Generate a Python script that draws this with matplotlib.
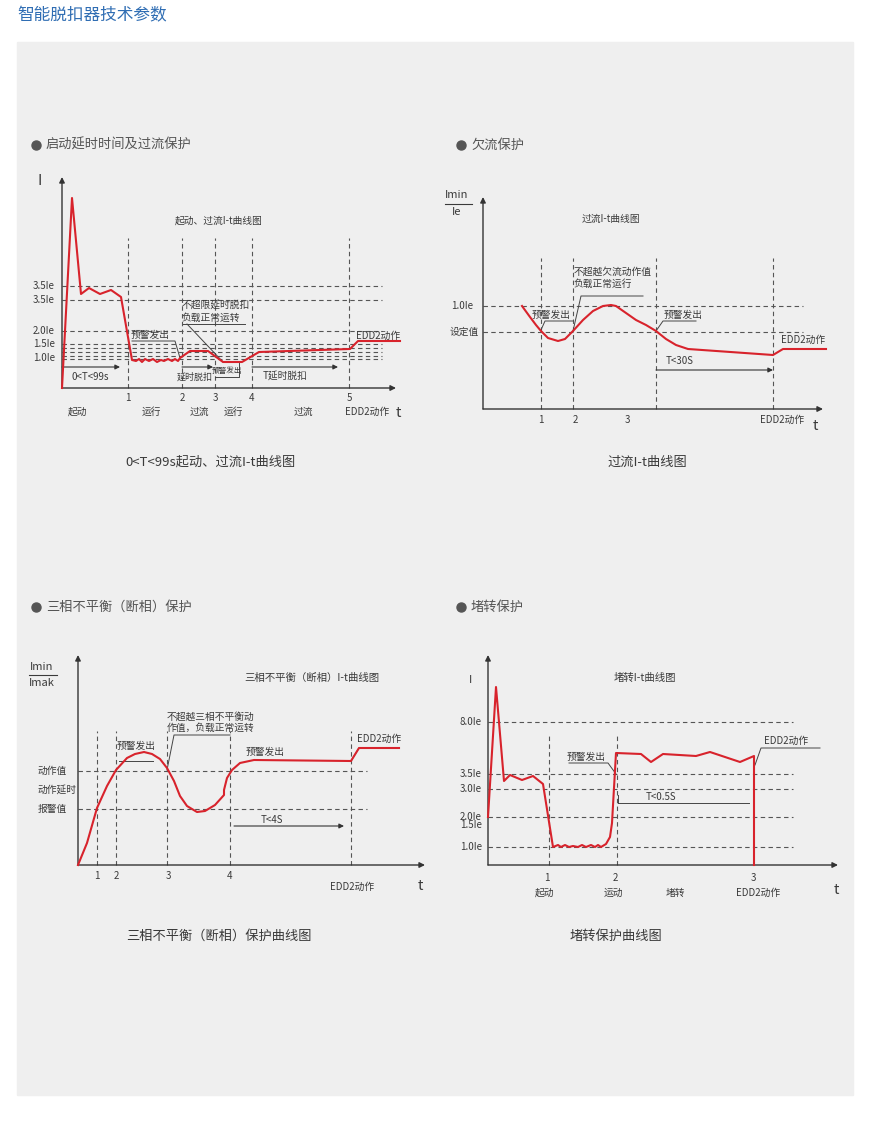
import numpy as np
import matplotlib
matplotlib.use("Agg")
import matplotlib.pyplot as plt
from matplotlib.patches import Rectangle

plt.rcParams['font.family'] = ['Noto Sans CJK SC', 'DejaVu Sans']

RED = '#d8232c'
AXC = '#333333'
DASH = '#555555'
TXT = '#3a3a3a'

# ---------------- data (diagram units, origin = axis corner) ----------------
# panel 1 : start delay + overcurrent
p1_t = [0, 10, 19, 27, 38, 49, 59, 70, 74, 77, 80, 83, 87, 91, 95, 99, 102, 106,
        110, 113, 116, 118, 128, 146, 161, 180, 197, 288, 296, 338]
p1_i = [0, 190, 94, 100, 94, 98, 91, 28, 27, 29, 26, 29, 27, 29, 26, 28, 27, 29,
        27, 29, 27, 30, 37, 37, 26, 26, 36, 39, 47, 47]
p1_levels = [102, 88, 57, 44, 40, 36, 32, 29]
p1_lvl_pos = [102, 88, 57, 44, 30]
p1_lvl_txt = ['3.5Ie', '3.5Ie', '2.0Ie', '1.5Ie', '1.0Ie']
p1_marks = [66, 120, 153, 190, 287]
p1_mark_txt = ['1', '2', '3', '4', '5']
p1_phase_x = [16, 89, 137, 171, 241, 305]
p1_phase_txt = ['起动', '运行', '过流', '运行', '过流', 'EDD2动作']

# panel 2 : undercurrent
p2_t = [39, 47, 53, 58, 65, 75, 82, 90, 100, 110, 120, 128, 133, 143, 153, 163,
        173, 183, 193, 205, 290, 300, 343]
p2_i = [103, 92, 84, 78, 71, 68, 70, 78, 89, 98, 103, 104, 103, 96, 89, 84,
        78, 70, 64, 60, 54, 60, 60]
p2_levels = [103, 77]
p2_lvl_txt = ['1.0Ie', '设定值']
p2_marks = [58, 90, 173, 290]
p2_mark_x = [58, 92, 144, 299]
p2_mark_txt = ['1', '2', '3', 'EDD2动作']

# panel 3 : phase unbalance
p3_t = [0, 9, 19, 29, 38, 49, 57, 66, 74, 82, 89, 96, 102, 109, 119, 127, 137,
        146, 146, 149, 154, 162, 176, 273, 281, 321]
p3_i = [0, 22, 57, 79, 95, 107, 111, 113, 111, 106, 97, 84, 69, 59, 53, 54, 60,
        70, 75, 87, 95, 102, 105, 104, 117, 117]
p3_levels = [94, 56]
p3_lvl_pos = [94, 75, 56]
p3_lvl_txt = ['动作值', '动作延时', '报警值']
p3_marks = [19, 38, 89, 152, 273]
p3_mark_x = [19, 38, 90, 152]
p3_mark_txt = ['1', '2', '3', '4']

# panel 4 : locked rotor
p4_t = [0, 8, 16, 22, 34, 45, 55, 65, 70, 73, 77, 81, 85, 90, 94, 98, 103, 107,
        110, 113, 118, 122, 124, 128, 153, 163, 175, 208, 222, 252, 266, 266]
p4_i = [48, 178, 84, 90, 85, 89, 81, 18, 20, 18, 20, 18, 19, 18, 20, 18, 20, 18,
        20, 18, 21, 28, 42, 112, 111, 103, 111, 109, 113, 103, 109, 0]
p4_levels = [143, 91, 76, 48, 18]
p4_lvl_pos = [143, 91, 76, 48, 40, 18]
p4_lvl_txt = ['8.0Ie', '3.5Ie', '3.0Ie', '2.0Ie', '1.5Ie', '1.0Ie']
p4_marks = [61, 129]
p4_mark_x = [59, 127, 265]
p4_mark_txt = ['1', '2', '3']
p4_phase_x = [57, 125, 187, 270]
p4_phase_txt = ['起动', '运动', '堵转', 'EDD2动作']

W, H = 870, 1121
fig = plt.figure(figsize=(W / 100, H / 100), dpi=100)
fig.patch.set_facecolor('white')

bg = fig.add_axes([0, 0, 1, 1])
bg.set_xlim(0, W)
bg.set_ylim(H, 0)
bg.axis('off')
bg.add_patch(Rectangle((17, 42), 836, 1053, color='#efefef', zorder=0))
bg.text(17, 16, '智能脱扣器技术参数', fontsize=12, color='#2f6db3', va='center')

headings = [(33, 145, '启动延时时间及过流保护'), (458, 145, '欠流保护'),
            (33, 607, '三相不平衡（断相）保护'), (458, 607, '堵转保护')]
for hx, hy, ht in headings:
    bg.plot([hx + 3], [hy], 'o', color='#555555', ms=6.5)
    bg.text(hx + 13, hy, ht, fontsize=9.5, color='#555555', va='center')

captions = [(211, 462, '0<T<99s起动、过流I-t曲线图'), (647, 462, '过流I-t曲线图'),
            (219, 936, '三相不平衡（断相）保护曲线图'), (616, 936, '堵转保护曲线图')]
for cx, cy, ct in captions:
    bg.text(cx, cy, ct, fontsize=9.5, color=TXT, ha='center', va='center')


def make_panel(ox, oy, left=-60, right=370, bottom=-40, top=230):
    ax = fig.add_axes([(ox + left) / W, (H - oy + bottom) / H,
                       (right - left) / W, (top - bottom) / H])
    ax.set_xlim(left, right)
    ax.set_ylim(bottom, top)
    ax.axis('off')
    ax.patch.set_alpha(0)
    return ax


def axes_arrows(ax, xend, ytop):
    ax.annotate('', xy=(xend, 0), xytext=(0, 0),
                arrowprops=dict(arrowstyle='-|>', color=AXC, lw=1, mutation_scale=8, shrinkA=0, shrinkB=0))
    ax.annotate('', xy=(0, ytop), xytext=(0, 0),
                arrowprops=dict(arrowstyle='-|>', color=AXC, lw=1, mutation_scale=8, shrinkA=0, shrinkB=0))


def grid_lines(ax, levels, xend, marks, ytop):
    ax.hlines(levels, 0, xend, colors=DASH, lw=0.8, linestyles=(0, (4, 3)))
    ax.vlines(marks, 0, ytop, colors=DASH, lw=0.8, linestyles=(0, (4, 3)))


def note(ax, xs, ys):
    ax.plot(xs, ys, color='#444444', lw=0.7)


def arrow(ax, x0, x1, y):
    ax.annotate('', xy=(x1, y), xytext=(x0, y),
                arrowprops=dict(arrowstyle='-|>', color=AXC, lw=0.8, mutation_scale=7, shrinkA=0, shrinkB=0))


fs = 7

# ---------------- panel 1 ----------------
ax1 = make_panel(62, 388)
grid_lines(ax1, p1_levels, 320, p1_marks, 150)
axes_arrows(ax1, 334, 211)
ax1.plot(p1_t, p1_i, color=RED, lw=1.5, zorder=5)
for y, s in zip(p1_lvl_pos, p1_lvl_txt):
    ax1.text(-7, y, s, fontsize=fs, ha='right', va='center', color=TXT)
for x, s in zip(p1_marks, p1_mark_txt):
    ax1.text(x, -10, s, fontsize=fs, ha='center', va='center', color=TXT)
for x, s in zip(p1_phase_x, p1_phase_txt):
    ax1.text(x, -24, s, fontsize=fs, ha='center', va='center', color=TXT)
ax1.text(336, -25, 't', fontsize=10.5, ha='center', va='center', color=TXT)
ax1.text(-22, 207, 'I', fontsize=10.5, ha='center', va='center', color=TXT)
ax1.text(157, 167, '起动、过流I-t曲线图', fontsize=fs, ha='center', va='center', color=TXT)
arrow(ax1, 0, 58, 21)
ax1.text(28, 11, '0<T<99s', fontsize=fs, ha='center', va='center', color=TXT)
arrow(ax1, 120, 151, 21)
ax1.text(133, 11, '延时脱扣', fontsize=fs - 0.5, ha='center', va='center', color=TXT)
ax1.text(165, 17, '预警发出', fontsize=fs - 1.5, ha='center', va='center', color=TXT)
note(ax1, [153, 177, 177], [11, 11, 25])
arrow(ax1, 190, 276, 21)
ax1.text(223, 12, 'T延时脱扣', fontsize=fs, ha='center', va='center', color=TXT)
ax1.text(88, 53, '预警发出', fontsize=fs, ha='center', va='center', color=TXT)
note(ax1, [70, 113, 118], [47, 47, 30])
ax1.text(120, 83, '不超限延时脱扣', fontsize=fs, ha='left', va='center', color=TXT)
ax1.text(120, 70, '负载正常运转', fontsize=fs, ha='left', va='center', color=TXT)
note(ax1, [183, 121], [64, 64])
note(ax1, [125, 161], [64, 26])
ax1.text(316, 52, 'EDD2动作', fontsize=fs, ha='center', va='center', color=TXT)

# ---------------- panel 2 ----------------
ax2 = make_panel(483, 409)
grid_lines(ax2, p2_levels, 320, p2_marks, 151)
axes_arrows(ax2, 340, 212)
ax2.plot(p2_t, p2_i, color=RED, lw=1.5, zorder=5)
ax2.text(-10, 103, p2_lvl_txt[0], fontsize=fs, ha='right', va='center', color=TXT)
ax2.text(-4, 77, p2_lvl_txt[1], fontsize=fs, ha='right', va='center', color=TXT)
for x, s in zip(p2_mark_x, p2_mark_txt):
    ax2.text(x, -11, s, fontsize=fs, ha='center', va='center', color=TXT)
ax2.text(332, -17, 't', fontsize=10.5, ha='center', va='center', color=TXT)
ax2.text(-26, 214, 'Imin', fontsize=8, ha='center', va='center', color=TXT)
ax2.text(-26, 197, 'Ie', fontsize=8, ha='center', va='center', color=TXT)
ax2.plot([-38, -11], [205, 205], color=TXT, lw=0.8)
ax2.text(128, 190, '过流I-t曲线图', fontsize=fs, ha='center', va='center', color=TXT)
ax2.text(68, 94, '预警发出', fontsize=fs, ha='center', va='center', color=TXT)
note(ax2, [90, 62, 58], [88, 88, 79])
ax2.text(91, 137, '不超越欠流动作值', fontsize=fs, ha='left', va='center', color=TXT)
ax2.text(91, 125, '负载正常运行', fontsize=fs, ha='left', va='center', color=TXT)
note(ax2, [160, 98, 90], [113, 113, 78])
ax2.text(200, 94, '预警发出', fontsize=fs, ha='center', va='center', color=TXT)
note(ax2, [213, 180, 173], [88, 88, 78])
ax2.text(320, 69, 'EDD2动作', fontsize=fs, ha='center', va='center', color=TXT)
arrow(ax2, 173, 290, 39)
ax2.text(197, 48, 'T<30S', fontsize=fs, ha='center', va='center', color=TXT)

# ---------------- panel 3 ----------------
ax3 = make_panel(78, 865)
grid_lines(ax3, p3_levels, 289, p3_marks, 134)
axes_arrows(ax3, 347, 210)
ax3.plot(p3_t, p3_i, color=RED, lw=1.5, zorder=5)
for y, s in zip(p3_lvl_pos, p3_lvl_txt):
    ax3.text(-40, y, s, fontsize=fs, ha='left', va='center', color=TXT)
for x, s in zip(p3_mark_x, p3_mark_txt):
    ax3.text(x, -11, s, fontsize=fs, ha='center', va='center', color=TXT)
ax3.text(274, -22, 'EDD2动作', fontsize=fs, ha='center', va='center', color=TXT)
ax3.text(342, -21, 't', fontsize=10.5, ha='center', va='center', color=TXT)
ax3.text(-36, 198, 'Imin', fontsize=8, ha='center', va='center', color=TXT)
ax3.text(-36, 182, 'Imak', fontsize=8, ha='center', va='center', color=TXT)
ax3.plot([-49, -21], [190, 190], color=TXT, lw=0.8)
ax3.text(234, 187, '三相不平衡（断相）I-t曲线图', fontsize=7.5, ha='center', va='center', color=TXT)
ax3.text(58, 119, '预警发出', fontsize=fs, ha='center', va='center', color=TXT)
note(ax3, [41, 75], [104, 104])
ax3.text(89, 148, '不超越三相不平衡动', fontsize=fs, ha='left', va='center', color=TXT)
ax3.text(89, 137.5, '作值，负载正常运转', fontsize=fs, ha='left', va='center', color=TXT)
note(ax3, [152, 96, 89], [130, 130, 95])
ax3.text(187, 113, '预警发出', fontsize=fs, ha='center', va='center', color=TXT)
note(ax3, [273, 281, 321], [104, 117, 117])
ax3.text(301, 126, 'EDD2动作', fontsize=fs, ha='center', va='center', color=TXT)
arrow(ax3, 156, 266, 39)
ax3.text(194, 45, 'T<4S', fontsize=fs, ha='center', va='center', color=TXT)

# ---------------- panel 4 ----------------
ax4 = make_panel(488, 865)
grid_lines(ax4, p4_levels, 305, p4_marks, 130)
axes_arrows(ax4, 350, 210)
ax4.plot(p4_t, p4_i, color=RED, lw=1.5, zorder=5)
for y, s in zip(p4_lvl_pos, p4_lvl_txt):
    ax4.text(-6, y, s, fontsize=fs, ha='right', va='center', color=TXT)
for x, s in zip(p4_mark_x, p4_mark_txt):
    ax4.text(x, -13, s, fontsize=fs, ha='center', va='center', color=TXT)
for x, s in zip(p4_phase_x, p4_phase_txt):
    ax4.text(x, -28, s, fontsize=fs, ha='center', va='center', color=TXT)
ax4.text(348, -25, 't', fontsize=10.5, ha='center', va='center', color=TXT)
ax4.text(-17, 185, 'I', fontsize=8, ha='center', va='center', color=TXT)
ax4.text(157, 187, '堵转I-t曲线图', fontsize=7.5, ha='center', va='center', color=TXT)
ax4.text(98, 108, '预警发出', fontsize=fs, ha='center', va='center', color=TXT)
note(ax4, [81, 120, 128], [102, 102, 91])
ax4.text(298, 124, 'EDD2动作', fontsize=fs, ha='center', va='center', color=TXT)
note(ax4, [332, 273, 267], [117, 117, 100])
note(ax4, [130, 261], [62, 62])
note(ax4, [130, 130], [62, 70])
ax4.text(173, 68, 'T<0.5S', fontsize=fs, ha='center', va='center', color=TXT)

fig.savefig('out.png', dpi=100)
